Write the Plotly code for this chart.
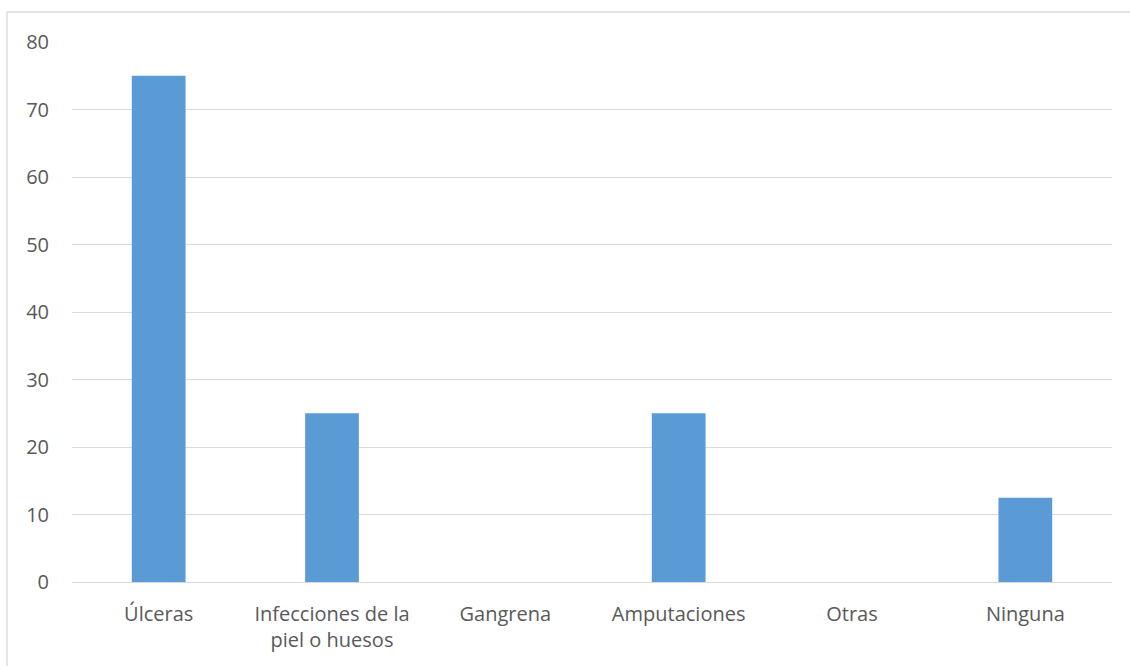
import plotly.graph_objects as go

categories = ["Úlceras", "Infecciones de la<br>piel o huesos", "Gangrena", "Amputaciones", "Otras", "Ninguna"]
values = [75, 25, 0, 25, 0, 12.5]
y_ticks = [0, 10, 20, 30, 40, 50, 60, 70, 80]

W, H = 1130, 666
L, R, T, B = 72, 18, 42, 84
pw, ph = W - L - R, H - T - B

fig = go.Figure(go.Bar(x=categories, y=values, marker=dict(color="#5B9BD5", line=dict(width=0)), width=0.31,
                       hoverinfo="skip"))

fig.update_layout(
    width=W, height=H,
    margin=dict(l=L, r=R, t=T, b=B),
    paper_bgcolor="white", plot_bgcolor="white",
    font=dict(family="'Open Sans', sans-serif", size=20, color="#595959"),
    showlegend=False,
    xaxis=dict(showgrid=False, showline=False, ticks="", ticklabelstandoff=18,
               tickfont=dict(size=20, color="#595959")),
    yaxis=dict(range=[0, 80], tickvals=y_ticks, showgrid=True, gridcolor="#d9d9d9", gridwidth=1.3,
               zeroline=True, zerolinecolor="#d9d9d9", zerolinewidth=1.3,
               showline=False, ticks="", ticklabelstandoff=22, tickfont=dict(size=20, color="#595959")),
)

fig.add_shape(type="rect", xref="paper", yref="paper",
              x0=(7 - L) / pw, x1=(W + 20 - L) / pw,
              y0=-(H + 20 - T - ph) / ph, y1=(H - B - 12) / ph,
              line=dict(color="#d9d9d9", width=1.3), fillcolor="rgba(0,0,0,0)", layer="below")

fig.write_html("out.html", config={"displayModeBar": False},
               post_script="document.body.style.margin='0';document.body.style.overflow='hidden';")
